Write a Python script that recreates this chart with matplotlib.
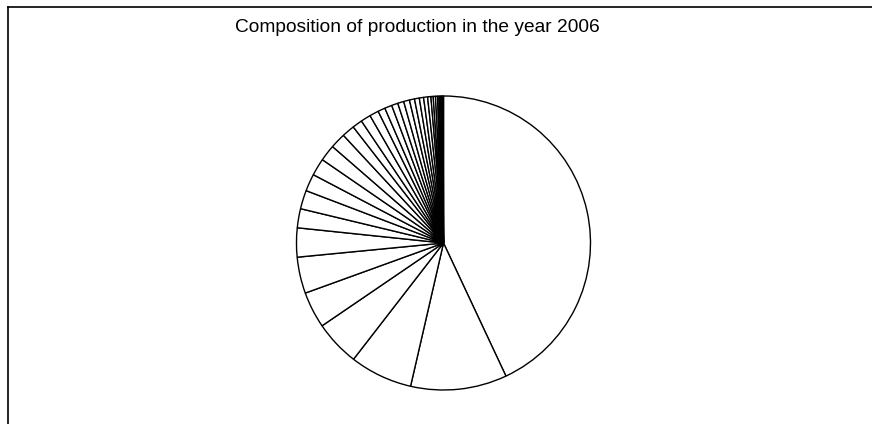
import matplotlib
matplotlib.use("Agg")
import matplotlib.pyplot as plt
from matplotlib.lines import Line2D

# Share of production per item in 2006 (percent), largest first
shares = [43.1, 10.6, 6.9, 5.0, 4.0, 4.0, 3.2, 2.1, 2.05, 1.9, 1.9, 1.8,
          1.7, 1.4, 1.1, 1.1, 1.0, 0.8, 0.8, 0.7, 0.67, 0.64, 0.56, 0.53,
          0.47, 0.44, 0.36, 0.25, 0.25, 0.22, 0.17, 0.14, 0.14, 0.1, 0.06, 0.04]
title = "Composition of production in the year 2006"

W, H = 872, 424
fig = plt.figure(figsize=(W / 100, H / 100), dpi=100)
fig.patch.set_facecolor("white")

# pie area: centre (443.5, 243) px, radius 147 px
cx, cy, r = 443.5, 243, 147
ax = fig.add_axes([(cx - r) / W, (H - cy - r) / H, 2 * r / W, 2 * r / H])
ax.pie(shares, startangle=90, counterclock=False, colors=["white"] * len(shares),
       wedgeprops=dict(edgecolor="black", linewidth=1.0))
ax.set_xlim(-1, 1)
ax.set_ylim(-1, 1)
ax.axis("off")

fig.text(417.5 / W, 1 - 28 / H, title, ha="center", va="center",
         fontsize=13.8, family="Liberation Sans")

# chart frame (left and top edges)
fig.add_artist(Line2D([8 / W, 8 / W], [0, 1 - 7 / H], transform=fig.transFigure,
                      color="black", linewidth=1.2))
fig.add_artist(Line2D([8 / W, 1], [1 - 7 / H, 1 - 7 / H], transform=fig.transFigure,
                      color="black", linewidth=1.2))

fig.savefig("out.png", dpi=100)
